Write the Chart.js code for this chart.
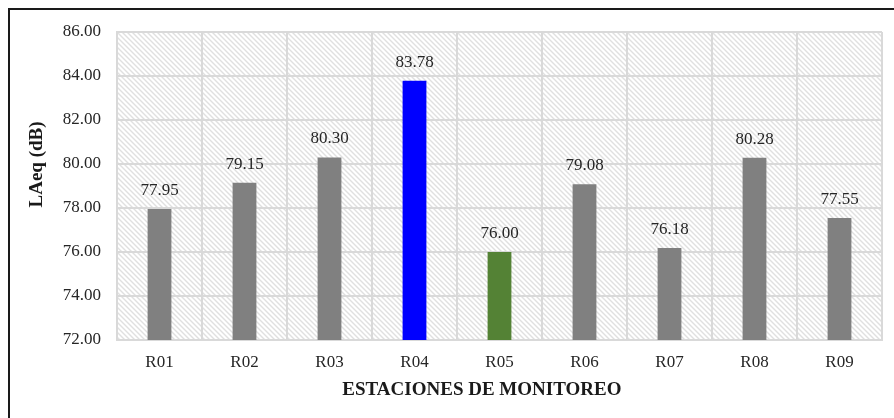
<!DOCTYPE html>
<html>
<head>
<meta charset="utf-8">
<script src="https://cdn.jsdelivr.net/npm/chart.js@4/dist/chart.umd.min.js"></script>
<style>
  html, body { margin: 0; padding: 0; background: #ffffff; overflow: hidden; }
  #wrap { position: relative; width: 894px; height: 418px; }
  #frame { position: absolute; left: 8px; top: 8px; width: 1000px; height: 1000px;
           border-top: 2px solid #1a1a1a; border-left: 2px solid #1a1a1a; pointer-events: none; }
  canvas { position: absolute; left: 0; top: 0; }
</style>
</head>
<body>
<div id="wrap">
  <canvas id="c" width="894" height="418"></canvas>
  <div id="frame"></div>
</div>
<script>
const categories = ["R01", "R02", "R03", "R04", "R05", "R06", "R07", "R08", "R09"];
const laeqValues = [77.95, 79.15, 80.30, 83.78, 76.00, 79.08, 76.18, 80.28, 77.55];
const barColors = ["#808080", "#808080", "#808080", "#0000FF", "#548235", "#808080", "#808080", "#808080", "#808080"];
const yAxisTitle = "LAeq (dB)";
const xAxisTitle = "ESTACIONES DE MONITOREO";

const FONT = "'Liberation Serif', 'Times New Roman', serif";

function makeHatch(ctx) {
  const s = 5;
  const t = document.createElement('canvas');
  t.width = s; t.height = s;
  const g = t.getContext('2d');
  g.fillStyle = '#ffffff';
  g.fillRect(0, 0, s, s);
  g.strokeStyle = '#e0e0e0';
  g.lineWidth = 1.4;
  g.beginPath();
  g.moveTo(-1, -1); g.lineTo(s + 1, s + 1);
  g.moveTo(-1, s - 1); g.lineTo(1, s + 1);
  g.moveTo(s - 1, -1); g.lineTo(s + 1, 1);
  g.stroke();
  return ctx.createPattern(t, 'repeat');
}

const hatchPlugin = {
  id: 'hatch',
  beforeDraw(chart) {
    const { ctx, chartArea: a } = chart;
    ctx.save();
    ctx.fillStyle = makeHatch(ctx);
    ctx.fillRect(a.left, a.top, a.right - a.left, a.bottom - a.top);
    ctx.restore();
  }
};

const labelPlugin = {
  id: 'valueLabels',
  afterDatasetsDraw(chart) {
    const { ctx } = chart;
    const meta = chart.getDatasetMeta(0);
    ctx.save();
    ctx.font = "17px " + FONT;
    ctx.fillStyle = '#262626';
    ctx.textAlign = 'center';
    ctx.textBaseline = 'bottom';
    meta.data.forEach((bar, i) => {
      ctx.fillText(laeqValues[i].toFixed(2), bar.x, bar.y - 10);
    });
    ctx.restore();
  }
};

const titlePlugin = {
  id: 'axisTitles',
  afterDraw(chart) {
    const { ctx, chartArea: a } = chart;
    ctx.save();
    ctx.fillStyle = '#1a1a1a';
    ctx.font = "bold 19px " + FONT;
    ctx.textAlign = 'center';
    ctx.textBaseline = 'middle';
    ctx.fillText(xAxisTitle, a.left + (a.right - a.left) * 0.477, 390);
    ctx.translate(37, a.top + (a.bottom - a.top) * 0.43);
    ctx.rotate(-Math.PI / 2);
    ctx.fillText(yAxisTitle, 0, 0);
    ctx.restore();
  }
};

new Chart(document.getElementById('c'), {
  type: 'bar',
  data: {
    labels: categories,
    datasets: [{
      data: laeqValues,
      backgroundColor: barColors,
      borderWidth: 0,
      barPercentage: 0.28,
      categoryPercentage: 1.0
    }]
  },
  options: {
    responsive: false,
    animation: false,
    devicePixelRatio: 1,
    layout: { padding: { left: 0, top: 32, right: 12, bottom: 0 } },
    plugins: {
      legend: { display: false },
      tooltip: { enabled: false },
      title: { display: false }
    },
    scales: {
      x: {
        grid: { color: '#d9d9d9', lineWidth: 2, drawTicks: false, offset: true },
        border: { color: '#d9d9d9', width: 2 },
        ticks: { color: '#262626', font: { family: FONT, size: 17 }, padding: 12 },
        afterFit(scale) { scale.height = 78; }
      },
      y: {
        min: 72, max: 86,
        grid: { color: '#d9d9d9', lineWidth: 2, drawTicks: false },
        border: { color: '#d9d9d9', width: 2 },
        ticks: {
          stepSize: 2,
          color: '#262626',
          font: { family: FONT, size: 17 },
          padding: 16,
          callback: (v) => Number(v).toFixed(2)
        },
        afterFit(scale) { scale.width = 117; }
      }
    }
  },
  plugins: [hatchPlugin, labelPlugin, titlePlugin]
});
</script>
</body>
</html>
